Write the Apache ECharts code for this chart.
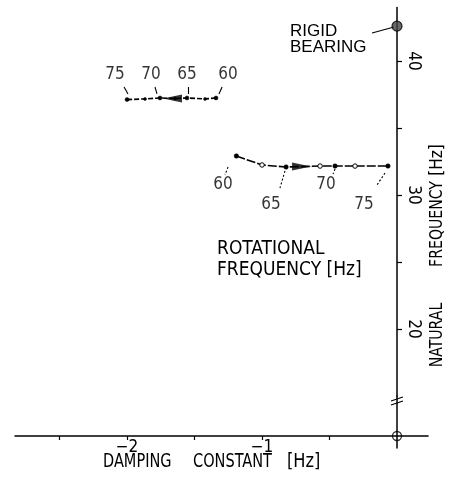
<!DOCTYPE html>
<html><head><meta charset="utf-8">
<script src="https://cdn.jsdelivr.net/npm/echarts@6/dist/echarts.min.js"></script>
<style>html,body{margin:0;padding:0;background:#fff}#c{width:449px;height:484px}</style>
</head><body><div id="c"></div>
<script>
// ---- data ----
const dampingTicks = [-2.5, -2, -1.5, -1, -0.5];
const dampingLabels = [-2, -1];
const freqTicks = [20, 25, 30, 35, 40];
const freqLabels = [20, 30, 40];

const rotFreq = [60, 62.5, 65, 67.5, 70, 72.5, 75];
// upper branch (moves left with speed)
const upperDamping = [-1.341, -1.422, -1.556, -1.644, -1.756, -1.867, -2.0];
const upperFreq    = [37.24, 37.17, 37.24, 37.20, 37.24, 37.17, 37.12];
// lower branch (moves right with speed)
const lowerDamping = [-1.19, -1.0, -0.822, -0.57, -0.459, -0.311, -0.067];
const lowerFreq    = [32.91, 32.24, 32.09, 32.16, 32.16, 32.16, 32.16];

const rigidBearing = [0, 42.6];
const origin = [0, 0];

// speed annotations (label positions, data units)
const upperLabelFreq = [75, 70, 65, 60];
const upperLabelX = [-2.089, -1.822, -1.556, -1.252];
const upperLabelY = [38.96, 38.96, 38.96, 38.96];
const upperLeaderFrom = [[-2.022, 38.06], [-1.793, 38.06], [-1.548, 38.06], [-1.296, 38.06]];
const upperLeaderTo   = [[-1.993, 37.54], [-1.778, 37.54], [-1.548, 37.54], [-1.319, 37.54]];

const lowerLabelFreq = [60, 65, 70, 75];
const lowerLabelX = [-1.289, -0.933, -0.526, -0.244];
const lowerLabelY = [30.75, 29.25, 30.75, 29.25];
const lowerLeaderFrom = [[-1.252, 32.09], [-0.830, 31.79], [-0.459, 31.94], [-0.089, 31.64]];
const lowerLeaderTo   = [[-1.274, 31.49], [-0.867, 30.52], [-0.474, 31.57], [-0.148, 30.75]];

const upperArrow = [-1.663, 37.2];
const lowerArrow = [-0.707, 32.12];
const bearingLeader = [[-0.185, 42.09], [-0.022, 42.54]];

// ---- chart ----
const COND = "'DejaVu Sans Condensed', 'Liberation Sans Narrow', sans-serif";
const REG = "'Liberation Sans', Arial, sans-serif";
const chart = echarts.init(document.getElementById('c'), null, {renderer: 'canvas'});

function branch(dmp, frq, labeledStyle, otherStyle) {
  return rotFreq.map((f, i) => {
    const labeled = f % 5 === 0;
    const st = labeled ? labeledStyle : otherStyle;
    return {value: [dmp[i], frq[i]], symbol: 'circle', symbolSize: st.size,
            itemStyle: {color: st.fill, borderColor: '#000', borderWidth: st.bw}};
  });
}
function textPoints(xs, ys, vals) {
  return vals.map((v, i) => ({value: [xs[i], ys[i]], name: String(v)}));
}
function leaders(from, to) {
  return from.map((p, i) => ({coords: [p, to[i]]}));
}
function txt(x, y, text, size, family, sx, rot, align) {
  return {type: 'text', x: x, y: y, rotation: rot || 0, scaleX: sx || 1, z: 20,
          style: {text: text, font: size + 'px ' + family, fill: '#000',
                  align: align || 'left', verticalAlign: 'middle'}};
}

const GRID_RIGHT = 20.95;               // grid right edge at 428.05 px
const Y_OFFSET = -31.05;                // moves the frequency axis onto damping = 0

chart.setOption({
  animation: false,
  backgroundColor: '#fff',
  grid: [
    {left: 15, right: GRID_RIGHT, top: 7.4, height: 388.6},
    {left: 15, right: GRID_RIGHT, top: 396, height: 52}
  ],
  xAxis: [
    {gridIndex: 0, type: 'value', min: -2.83, max: 0.23, show: false},
    {gridIndex: 1, type: 'value', min: -2.83, max: 0.23, position: 'bottom', offset: -12,
     axisLine: {show: true, onZero: false, lineStyle: {color: '#000', width: 1.5}},
     axisTick: {show: true, inside: false, length: 4, customValues: dampingTicks, lineStyle: {color: '#000', width: 1.2}},
     axisLabel: {show: true, customValues: dampingLabels, margin: 3, color: '#000',
                 fontFamily: COND, fontSize: 17,
                 formatter: v => (v < 0 ? '\u2212' : '') + Math.abs(v)},
     splitLine: {show: false}}
  ],
  yAxis: [
    {gridIndex: 0, type: 'value', min: 15, max: 44, position: 'right', offset: Y_OFFSET,
     axisLine: {show: true, onZero: false, lineStyle: {color: '#000', width: 1.5}},
     axisTick: {show: true, inside: false, length: 5, customValues: freqTicks, lineStyle: {color: '#000', width: 1.2}},
     axisLabel: {show: true, customValues: freqLabels, rotate: -90, margin: 8, color: '#000',
                 fontFamily: COND, fontSize: 17},
     splitLine: {show: false}},
    {gridIndex: 1, type: 'value', min: -1, max: 10 / 3, position: 'right', offset: Y_OFFSET,
     axisLine: {show: true, onZero: false, lineStyle: {color: '#000', width: 1.5}},
     axisTick: {show: false}, axisLabel: {show: false}, splitLine: {show: false}}
  ],
  series: [
    {type: 'line', xAxisIndex: 0, yAxisIndex: 0, z: 3,
     data: branch(upperDamping, upperFreq, {size: 4, fill: '#000', bw: 0.5}, {size: 3, fill: '#000', bw: 0.5}),
     lineStyle: {color: '#000', width: 1.6, type: [5, 2]}, showSymbol: true},
    {type: 'line', xAxisIndex: 0, yAxisIndex: 0, z: 3,
     data: branch(lowerDamping, lowerFreq, {size: 4.5, fill: '#000', bw: 0.5}, {size: 4.5, fill: '#fff', bw: 1}),
     lineStyle: {color: '#000', width: 1.6, type: [9, 2]}, showSymbol: true},
    {type: 'scatter', xAxisIndex: 0, yAxisIndex: 0, z: 4,
     data: [
       {value: upperArrow, symbolRotate: 90},
       {value: lowerArrow, symbolRotate: -90}
     ],
     symbol: 'triangle', symbolSize: [8, 19], itemStyle: {color: '#000'}},
    {type: 'lines', coordinateSystem: 'cartesian2d', xAxisIndex: 0, yAxisIndex: 0, z: 2,
     data: leaders(upperLeaderFrom, upperLeaderTo), lineStyle: {color: '#000', width: 1.1, opacity: 1}},
    {type: 'lines', coordinateSystem: 'cartesian2d', xAxisIndex: 0, yAxisIndex: 0, z: 2,
     data: leaders(lowerLeaderFrom, lowerLeaderTo), lineStyle: {color: '#000', width: 1.1, type: [2, 2], opacity: 1}},
    {type: 'lines', coordinateSystem: 'cartesian2d', xAxisIndex: 0, yAxisIndex: 0, z: 2,
     data: [{coords: bearingLeader}], lineStyle: {color: '#000', width: 1.1, opacity: 1}},
    {type: 'scatter', xAxisIndex: 0, yAxisIndex: 0, z: 5,
     data: [rigidBearing], symbol: 'circle', symbolSize: 10,
     itemStyle: {color: '#444', borderColor: '#000', borderWidth: 1.2}},
    {type: 'scatter', xAxisIndex: 1, yAxisIndex: 1, z: 5,
     data: [origin], symbol: 'circle', symbolSize: 9,
     itemStyle: {color: 'rgba(0,0,0,0)', borderColor: '#000', borderWidth: 1.3}},
    {type: 'scatter', xAxisIndex: 0, yAxisIndex: 0, z: 6, symbolSize: 0,
     data: textPoints(upperLabelX, upperLabelY, upperLabelFreq).concat(textPoints(lowerLabelX, lowerLabelY, lowerLabelFreq)),
     label: {show: true, position: [0, 0], align: 'center', verticalAlign: 'middle',
             formatter: p => p.name, color: '#000', fontFamily: COND, fontSize: 17}}
  ],
  graphic: [
    txt(290, 31, 'RIGID', 17, REG),
    txt(290, 47, 'BEARING', 17, REG),
    txt(217, 249.5, 'ROTATIONAL', 19, COND),
    txt(217, 270, 'FREQUENCY [Hz]', 19, COND),
    txt(103, 462, 'DAMPING', 19, COND, 0.85),
    txt(193, 462, 'CONSTANT', 19, COND, 0.85),
    txt(287, 462, '[Hz]', 19, COND, 0.95),
    txt(437, 335, 'NATURAL', 18, COND, 0.87, Math.PI / 2, 'center'),
    txt(437, 224, 'FREQUENCY', 18, COND, 0.87, Math.PI / 2, 'center'),
    txt(437, 160, '[Hz]', 18, COND, 0.95, Math.PI / 2, 'center'),
    {type: 'line', shape: {x1: 391, y1: 401, x2: 403, y2: 397}, style: {stroke: '#000', lineWidth: 1.2}, z: 10},
    {type: 'line', shape: {x1: 391, y1: 405, x2: 403, y2: 401}, style: {stroke: '#000', lineWidth: 1.2}, z: 10}
  ]
});
</script></body></html>
